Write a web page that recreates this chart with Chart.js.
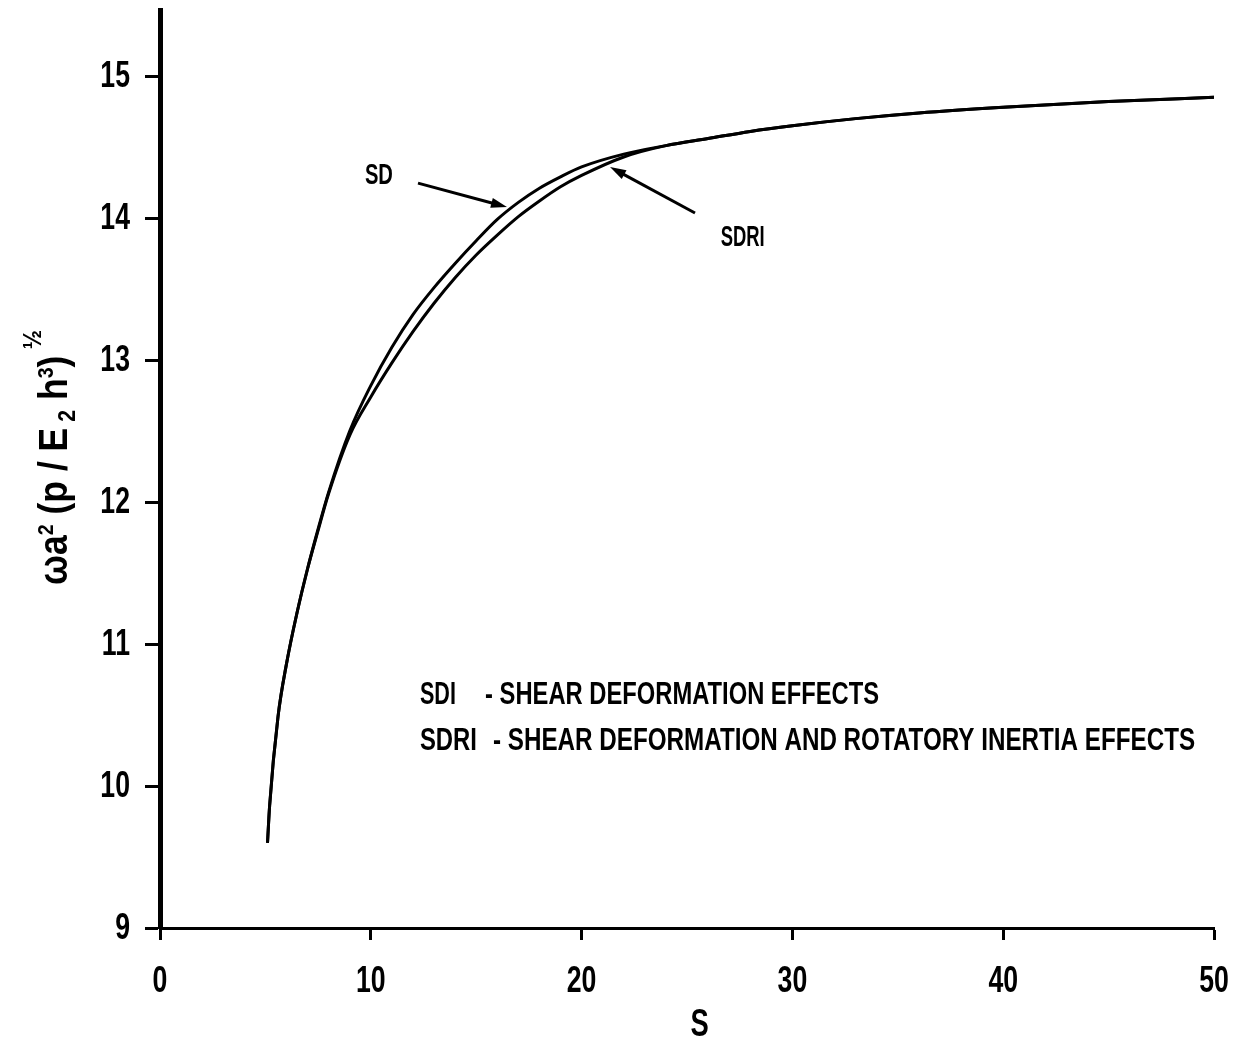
<!DOCTYPE html>
<html lang="en">
<head>
  <meta charset="UTF-8">
  <title>Frequency vs S</title>
  <script src="https://cdn.jsdelivr.net/npm/chart.js"></script>
  <style>
    body { margin: 0; background: #fff; }
    #wrap { width: 1242px; height: 1038px; }
  </style>
</head>
<body>
  <div id="wrap"><canvas id="myChart" width="1242" height="1038"></canvas></div>

  <script>
    // values
    const sValues    = [5.1, 5.2, 5.6, 6.0, 6.5, 7.0, 7.5, 8.0, 9.0, 10.0, 11.0, 12.0, 13.0, 14.0, 15.0, 16.0, 17.0, 18.0, 19.0, 20.0, 22.0, 24.0, 26.0, 28.0, 30.0, 33.0, 36.0, 40.0, 45.0, 50.0];
    const sdValues   = [9.60, 9.86, 10.49, 10.86, 11.22, 11.53, 11.81, 12.07, 12.50, 12.82, 13.09, 13.32, 13.51, 13.68, 13.84, 13.99, 14.11, 14.21, 14.29, 14.36, 14.45, 14.51, 14.56, 14.61, 14.65, 14.70, 14.74, 14.78, 14.82, 14.85];
    const sdriValues = [9.60, 9.86, 10.49, 10.86, 11.22, 11.53, 11.80, 12.06, 12.47, 12.74, 12.98, 13.20, 13.40, 13.58, 13.74, 13.88, 14.01, 14.12, 14.22, 14.30, 14.43, 14.51, 14.56, 14.61, 14.65, 14.70, 14.74, 14.78, 14.82, 14.85];
    const xTicks = [0, 10, 20, 30, 40, 50];
    const yTicks = [9, 10, 11, 12, 13, 14, 15];

    const FAMILY = "'Liberation Sans', Arial, sans-serif";
    const SQUEEZE = 0.72;   // condensed look of the original lettering

    // draw text squeezed/stretched to a given width
    function fitText(ctx, text, x, y, width) {
      const w = ctx.measureText(text).width;
      ctx.save();
      ctx.translate(x, y);
      ctx.scale(width / w, 1);
      ctx.fillText(text, 0, 0);
      ctx.restore();
    }

    // draw text with a fixed horizontal squeeze, aligned by anchor
    function narrowText(ctx, text, x, y, align) {
      const w = ctx.measureText(text).width * SQUEEZE;
      let left = x;
      if (align === 'center') left = x - w / 2;
      if (align === 'right') left = x - w;
      ctx.save();
      ctx.translate(left, y);
      ctx.scale(SQUEEZE, 1);
      ctx.fillText(text, 0, 0);
      ctx.restore();
    }

    function arrow(ctx, x1, y1, x2, y2) {
      const a = Math.atan2(y2 - y1, x2 - x1);
      const len = 16, half = 5;
      ctx.beginPath();
      ctx.moveTo(x1, y1);
      ctx.lineTo(x2 - Math.cos(a) * len * 0.8, y2 - Math.sin(a) * len * 0.8);
      ctx.stroke();
      ctx.beginPath();
      ctx.moveTo(x2, y2);
      ctx.lineTo(x2 - Math.cos(a) * len - Math.sin(a) * half, y2 - Math.sin(a) * len + Math.cos(a) * half);
      ctx.lineTo(x2 - Math.cos(a) * len + Math.sin(a) * half, y2 - Math.sin(a) * len - Math.cos(a) * half);
      ctx.closePath();
      ctx.fill();
    }

    const annotations = {
      id: 'annotations',
      afterDraw(chart) {
        const ctx = chart.ctx;
        const xs = chart.scales.x, ys = chart.scales.y;
        const px = v => xs.getPixelForValue(v);
        const py = v => ys.getPixelForValue(v);
        ctx.save();
        ctx.fillStyle = '#000';
        ctx.strokeStyle = '#000';
        ctx.lineWidth = 3;

        // tick labels from the scales
        ctx.font = 'bold 37px ' + FAMILY;
        ctx.textBaseline = 'alphabetic';
        xs.ticks.forEach(t => narrowText(ctx, String(t.value), px(t.value), 992, 'center'));
        ctx.textBaseline = 'middle';
        ys.ticks.forEach(t => narrowText(ctx, String(t.value), 130, py(t.value) + 1, 'right'));

        // curve labels and arrows
        ctx.font = 'bold 30px ' + FAMILY;
        fitText(ctx, 'SD', px(9.72), py(14.30), 28);
        fitText(ctx, 'SDRI', px(26.6), py(13.86), 44);
        arrow(ctx, px(12.24), py(14.246), px(16.46), py(14.077));
        arrow(ctx, px(25.38), py(14.035), px(21.35), py(14.359));

        // key
        ctx.font = 'bold 31px ' + FAMILY;
        fitText(ctx, 'SDI', px(12.33), py(10.641), 36);
        fitText(ctx, '- SHEAR DEFORMATION EFFECTS', px(15.42), py(10.641), 394);
        fitText(ctx, 'SDRI', px(12.33), py(10.317), 57);
        fitText(ctx, '- SHEAR DEFORMATION AND ROTATORY INERTIA EFFECTS', px(15.8), py(10.317), 702);

        // x axis title
        ctx.font = 'bold 38px ' + FAMILY;
        ctx.textBaseline = 'alphabetic';
        narrowText(ctx, 'S', px(25.6), 1036, 'center');

        // y axis title, rotated, with super/subscripts
        const parts = [
          ['\u03c9', 40, 0], ['a', 40, 0], ['2', 22, -14],
          [' (p / E', 40, 0], [' 2', 24, 8], [' h', 40, 0], ['3', 22, -14],
          [')', 40, 0], [' \u00bd', 26, -26]
        ];
        let total = 0;
        parts.forEach(p => { ctx.font = 'bold ' + p[1] + 'px ' + FAMILY; total += ctx.measureText(p[0]).width; });
        ctx.save();
        ctx.translate(67, 585);
        ctx.rotate(-Math.PI / 2);
        ctx.scale(255 / total, 1);
        let cx = 0;
        parts.forEach(p => {
          ctx.font = 'bold ' + p[1] + 'px ' + FAMILY;
          ctx.fillText(p[0], cx, p[2]);
          cx += ctx.measureText(p[0]).width;
        });
        ctx.restore();
        ctx.restore();
      }
    };

    const ctx = document.getElementById('myChart').getContext('2d');
    new Chart(ctx, {
      type: 'line',
      data: {
        datasets: [
          {
            label: 'SD',
            data: sValues.map((s, i) => ({ x: s, y: sdValues[i] })),
            borderColor: '#000',
            borderWidth: 3,
            pointRadius: 0,
            fill: false,
            cubicInterpolationMode: 'monotone'
          },
          {
            label: 'SDRI',
            data: sValues.map((s, i) => ({ x: s, y: sdriValues[i] })),
            borderColor: '#000',
            borderWidth: 3,
            pointRadius: 0,
            fill: false,
            cubicInterpolationMode: 'monotone'
          }
        ]
      },
      options: {
        responsive: false,
        animation: false,
        layout: { padding: { top: 10, right: 28, left: 0, bottom: 0 } },
        plugins: { legend: { display: false }, tooltip: { enabled: false } },
        scales: {
          x: {
            type: 'linear',
            min: 0,
            max: 50,
            afterBuildTicks: s => { s.ticks = xTicks.map(v => ({ value: v })); },
            afterFit: s => { s.height = 110; s.paddingLeft = 0; s.paddingRight = 0; },
            ticks: { display: false },
            grid: { drawOnChartArea: false, drawTicks: true, tickLength: 12, tickWidth: 3, color: '#000' },
            border: { display: true, width: 3, color: '#000' }
          },
          y: {
            type: 'linear',
            min: 9,
            max: 15.465,
            afterBuildTicks: s => { s.ticks = yTicks.map(v => ({ value: v })); },
            afterFit: s => { s.width = 160; s.paddingTop = 0; s.paddingBottom = 0; },
            ticks: { display: false },
            grid: { drawOnChartArea: false, drawTicks: true, tickLength: 15, tickWidth: 3, color: '#000' },
            border: { display: true, width: 5, color: '#000' }
          }
        }
      },
      plugins: [annotations]
    });
  </script>
</body>
</html>
